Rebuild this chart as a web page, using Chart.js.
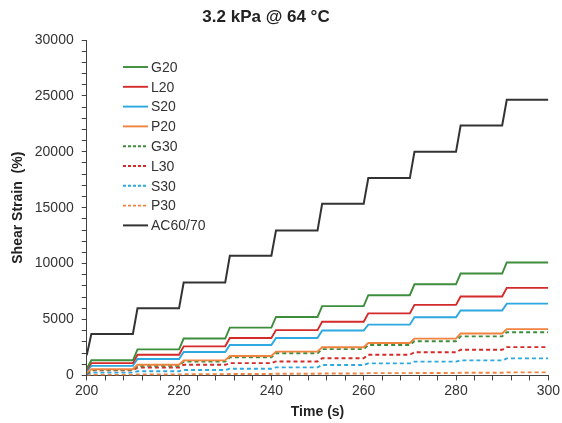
<!DOCTYPE html>
<html>
<head>
<meta charset="utf-8">
<script src="https://cdn.jsdelivr.net/npm/chart.js@4/dist/chart.umd.min.js"></script>
<style>
  html, body { margin: 0; padding: 0; background: #fff; }
  #wrap { width: 562px; height: 423px; }
</style>
</head>
<body>
<div id="wrap"><canvas id="creepChart" width="562" height="423"></canvas></div>
<script>
// Creep cycles: 1 s loading at the start of each 10 s cycle
const cycleStart = [200, 210, 220, 230, 240, 250, 260, 270, 280, 290];
const xTicks = [200, 220, 240, 260, 280, 300];
const yTicks = [0, 5000, 10000, 15000, 20000, 25000, 30000];

// value at t=200, then the plateau reached in each cycle
const g20 = [600, 1350, 2330, 3300, 4270, 5230, 6200, 7170, 8150, 9110, 10100];
const l20 = [500, 1100, 1850, 2600, 3350, 4050, 4800, 5550, 6310, 7060, 7830];
const s20 = [400, 850, 1470, 2090, 2720, 3350, 4010, 4540, 5200, 5810, 6420];
const p20 = [250, 550, 950, 1340, 1740, 2130, 2520, 2900, 3290, 3750, 4140];
const g30 = [200, 490, 860, 1240, 1610, 1980, 2350, 2720, 3060, 3490, 3860];
const l30 = [150, 450, 700, 950, 1100, 1250, 1530, 1850, 2070, 2290, 2530];
const s30 = [100, 250, 370, 480, 600, 720, 930, 1080, 1230, 1340, 1520];
const p30 = [20, 50, 80, 100, 130, 150, 170, 200, 220, 240, 270];
const ac6070 = [1800, 3700, 6000, 8300, 10700, 12950, 15350, 17650, 20000, 22350, 24650];

function stepPoints(vals) {
  var pts = [{ x: 200, y: vals[0] }];
  for (var i = 0; i < cycleStart.length; i++) {
    var t = cycleStart[i];
    if (i > 0) pts.push({ x: t, y: vals[i] });
    pts.push({ x: t + 1, y: vals[i + 1] });
  }
  pts.push({ x: 300, y: vals[vals.length - 1] });
  return pts;
}

function series(label, vals, color, dashed) {
  return {
    label: label,
    data: stepPoints(vals),
    borderColor: color,
    backgroundColor: color,
    borderWidth: label === 'AC60/70' ? 2 : 1.9,
    borderDash: dashed ? [4, 3] : [],
    pointRadius: 0,
    tension: 0,
    fill: false
  };
}

const GREEN = '#3C8D3C', RED = '#D42A2A', BLUE = '#2DA8E0', ORANGE = '#F08340', DARK = '#333333';

// legend inside plot + title, drawn by hand to match placement
const overlayPlugin = {
  id: 'overlay',
  afterDraw: function (chart) {
    var ctx = chart.ctx;
    ctx.save();
    ctx.fillStyle = '#222';
    ctx.font = 'bold 17px Arial, "Liberation Sans", sans-serif';
    ctx.textAlign = 'center';
    ctx.textBaseline = 'middle';
    ctx.fillText('3.2 kPa @ 64 \u00B0C', 266, 17);

    ctx.font = '14px Arial, "Liberation Sans", sans-serif';
    ctx.textAlign = 'left';
    chart.data.datasets.forEach(function (ds, i) {
      var y = 67 + i * 19.8;
      ctx.strokeStyle = ds.borderColor;
      ctx.lineWidth = ds.borderWidth;
      ctx.setLineDash(ds.borderDash.length ? [3, 2] : []);
      ctx.beginPath();
      ctx.moveTo(123, y);
      ctx.lineTo(148, y);
      ctx.stroke();
      ctx.setLineDash([]);
      ctx.fillStyle = '#333';
      ctx.fillText(ds.label, 151, y + 1);
    });
    ctx.restore();
  }
};

Chart.defaults.font.family = 'Arial, "Liberation Sans", sans-serif';
Chart.defaults.color = '#333';

var ctx = document.getElementById('creepChart').getContext('2d');
var myChart = new Chart(ctx, {
  type: 'line',
  data: {
    datasets: [
      series('G20', g20, GREEN, false),
      series('L20', l20, RED, false),
      series('S20', s20, BLUE, false),
      series('P20', p20, ORANGE, false),
      series('G30', g30, GREEN, true),
      series('L30', l30, RED, true),
      series('S30', s30, BLUE, true),
      series('P30', p30, ORANGE, true),
      series('AC60/70', ac6070, DARK, false)
    ]
  },
  options: {
    responsive: false,
    animation: false,
    layout: { padding: { top: 40, right: 0, bottom: 2, left: 10 } },
    plugins: {
      legend: { display: false },
      tooltip: { enabled: false }
    },
    scales: {
      x: {
        type: 'linear',
        min: 200,
        max: 300,
        border: { display: true, color: '#404040', width: 1 },
        grid: { drawOnChartArea: false, tickLength: 5, color: '#404040' },
        ticks: {
          stepSize: 4,
          autoSkip: false,
          maxRotation: 0,
          padding: 2,
          font: { size: 14 },
          color: '#333',
          callback: function (v) { return xTicks.indexOf(v) >= 0 ? String(v) : ''; }
        },
        title: {
          display: true,
          text: 'Time (s)',
          font: { size: 14, weight: 'bold' },
          color: '#222',
          padding: { top: 3, bottom: 0 }
        }
      },
      y: {
        min: 0,
        max: 30000,
        border: { display: true, color: '#404040', width: 1 },
        grid: { drawOnChartArea: false, tickLength: 5, color: '#404040' },
        ticks: {
          stepSize: 1000,
          autoSkip: false,
          padding: 8,
          font: { size: 14 },
          color: '#333',
          callback: function (v) { return yTicks.indexOf(v) >= 0 ? String(v) : ''; }
        },
        title: {
          display: true,
          text: 'Shear Strain  (%)',
          font: { size: 14, weight: 'bold' },
          color: '#222',
          padding: { top: 0, bottom: 0 }
        }
      }
    }
  },
  plugins: [overlayPlugin]
});
</script>
</body>
</html>
